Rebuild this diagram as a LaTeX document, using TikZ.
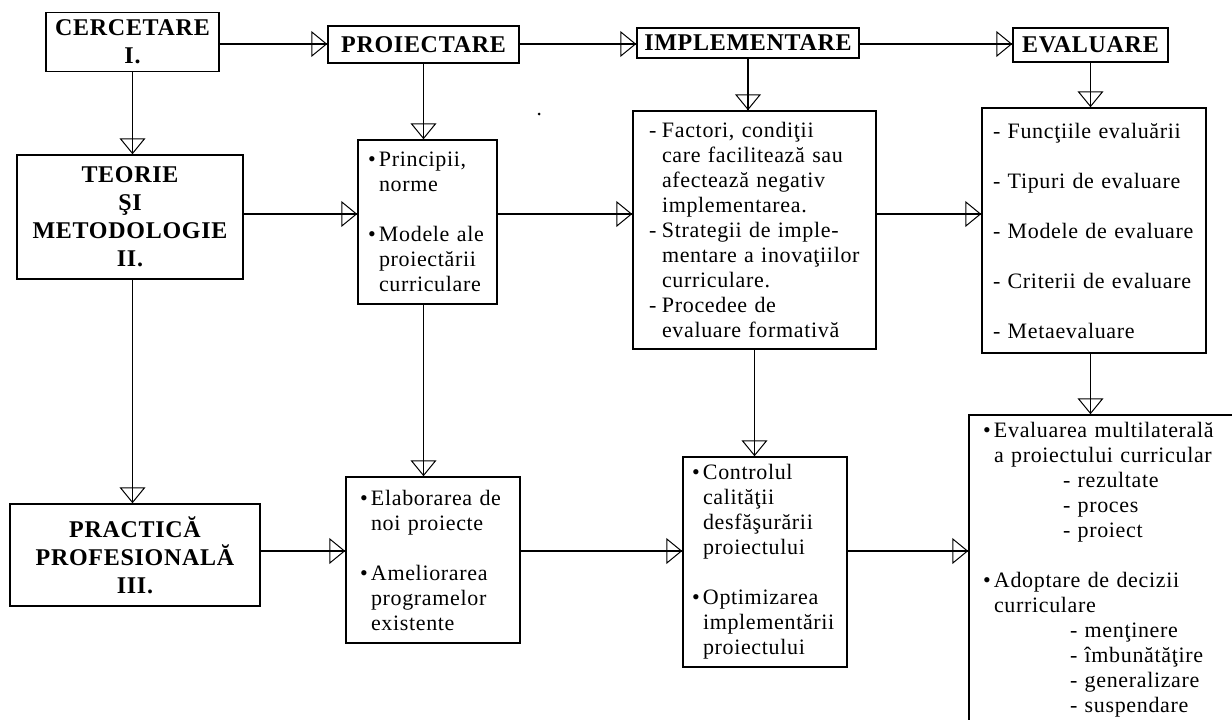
\documentclass[tikz,border=0pt]{standalone}
\usepackage{fontspec}
\setmainfont{Liberation Serif}[LetterSpace=3]
\usepackage{tikz}
\usetikzlibrary{arrows.meta, decorations.markings}
\tikzstyle{Arrow} = [
%open triangle tip on a line drawn up to the box:
line width=1.5pt,
decoration={
markings,
mark=at position 1 with {
\arrow[line width=1pt]{Triangle[open, length=16pt, width=26pt]}
}
},
preaction = {decorate}
]
\newcommand{\itm}{\makebox[11pt][l]{\textbullet}}
\newcommand{\dsh}{\makebox[13pt][l]{-}}

\begin{document}
\begin{tikzpicture}[x=1pt, y=-1pt,
			title/.style = {rectangle, draw, line width=1.5pt, inner sep=0pt, align=center, font=\fontsize{24}{28}\selectfont\bfseries},
			list/.style = {rectangle, draw, line width=1.5pt, inner sep=0pt, align=left, font=\fontsize{22}{25}\selectfont},
		]
		\useasboundingbox (0,0) rectangle (1232,720);
		\coordinate(R1) at (0,44);
		\coordinate(R2) at (0,214);
		\coordinate(R3) at (0,551);

		\node[title, minimum width=173, minimum height=59](CER) at (132.5,42){CERCETARE\\I.};
		\node[title, minimum width=191, minimum height=37](PRO) at (423.5,44.5){PROIECTARE};
		\node[title, minimum width=222, minimum height=30](IMP) at (748,43){IMPLEMENTARE};
		\node[title, minimum width=155, minimum height=34](EVA) at (1090.5,45){EVALUARE};

		\node[title, minimum width=226, minimum height=124](TEO) at (130,217){TEORIE\\ŞI\\METODOLOGIE\\II.};
		\node[list, minimum width=139, minimum height=164, text width=119](PRI) at (427.5,222){%
			\itm Principii,\\ \hspace*{11pt}norme\\[25pt]
			\itm Modele ale\\ \hspace*{11pt}proiectării\\ \hspace*{11pt}curriculare};
		\node[list, minimum width=243, minimum height=238, text width=211](FAC) at (754.5,230){%
			\dsh Factori, condiţii\\ \hspace*{13pt}care facilitează sau\\ \hspace*{13pt}afectează negativ\\ \hspace*{13pt}implementarea.\\
			\dsh Strategii de imple-\\ \hspace*{13pt}mentare a inovaţiilor\\ \hspace*{13pt}curriculare.\\
			\dsh Procedee de\\ \hspace*{13pt}evaluare formativă};
		\node[list, minimum width=224, minimum height=245, text width=202](FUN) at (1094,230.5){%
			- Funcţiile evaluării\\[25pt] - Tipuri de evaluare\\[25pt] - Modele de evaluare\\[25pt]
			- Criterii de evaluare\\[25pt] - Metaevaluare};

		\node[title, minimum width=250, minimum height=102](PRA) at (135,555){PRACTICĂ\\PROFESIONALĂ\\III.};
		\node[list, minimum width=174, minimum height=166, text width=146](ELA) at (433,560){%
			\itm Elaborarea de\\ \hspace*{11pt}noi proiecte\\[25pt]
			\itm Ameliorarea\\ \hspace*{11pt}programelor\\ \hspace*{11pt}existente};
		\node[list, minimum width=164, minimum height=210, text width=146](CON) at (765,562){%
			\itm Controlul\\ \hspace*{11pt}calităţii\\ \hspace*{11pt}desfăşurării\\ \hspace*{11pt}proiectului\\[25pt]
			\itm Optimizarea\\ \hspace*{11pt}implementării\\ \hspace*{11pt}proiectului};
		\node[list, minimum width=271, minimum height=310, text width=243](EVM) at (1104.5,570){%
			\itm Evaluarea multilaterală\\ \hspace*{11pt}a proiectului curricular\\
			\hspace*{80pt}- rezultate\\ \hspace*{80pt}- proces\\ \hspace*{80pt}- proiect\\[25pt]
			\itm Adoptare de decizii\\ \hspace*{11pt}curriculare\\
			\hspace*{87pt}- menţinere\\ \hspace*{87pt}- îmbunătăţire\\ \hspace*{87pt}- generalizare\\ \hspace*{87pt}- suspendare};

		\fill(539,114) circle (1.5pt);

		\draw[Arrow](CER.east |- R1)--(PRO.west |- R1);
		\draw[Arrow](PRO.east |- R1)--(IMP.west |- R1);
		\draw[Arrow](IMP.east |- R1)--(EVA.west |- R1);
		\draw[Arrow](TEO.east |- R2)--(PRI.west |- R2);
		\draw[Arrow](PRI.east |- R2)--(FAC.west |- R2);
		\draw[Arrow](FAC.east |- R2)--(FUN.west |- R2);
		\draw[Arrow](PRA.east |- R3)--(ELA.west |- R3);
		\draw[Arrow](ELA.east |- R3)--(CON.west |- R3);
		\draw[Arrow](CON.east |- R3)--(EVM.west |- R3);

		\draw[Arrow](CER.south)--(CER.south |- TEO.north);
		\draw[Arrow](CER.south |- TEO.south)--(CER.south |- PRA.north);
		\draw[Arrow](PRO.south)--(PRO.south |- PRI.north);
		\draw[Arrow](PRO.south |- PRI.south)--(PRO.south |- ELA.north);
		\draw[Arrow](IMP.south)--(IMP.south |- FAC.north);
		\draw[Arrow](FAC.south)--(FAC.south |- CON.north);
		\draw[Arrow](EVA.south)--(EVA.south |- FUN.north);
		\draw[Arrow](EVA.south |- FUN.south)--(EVA.south |- EVM.north);
	\end{tikzpicture}
\end{document}
